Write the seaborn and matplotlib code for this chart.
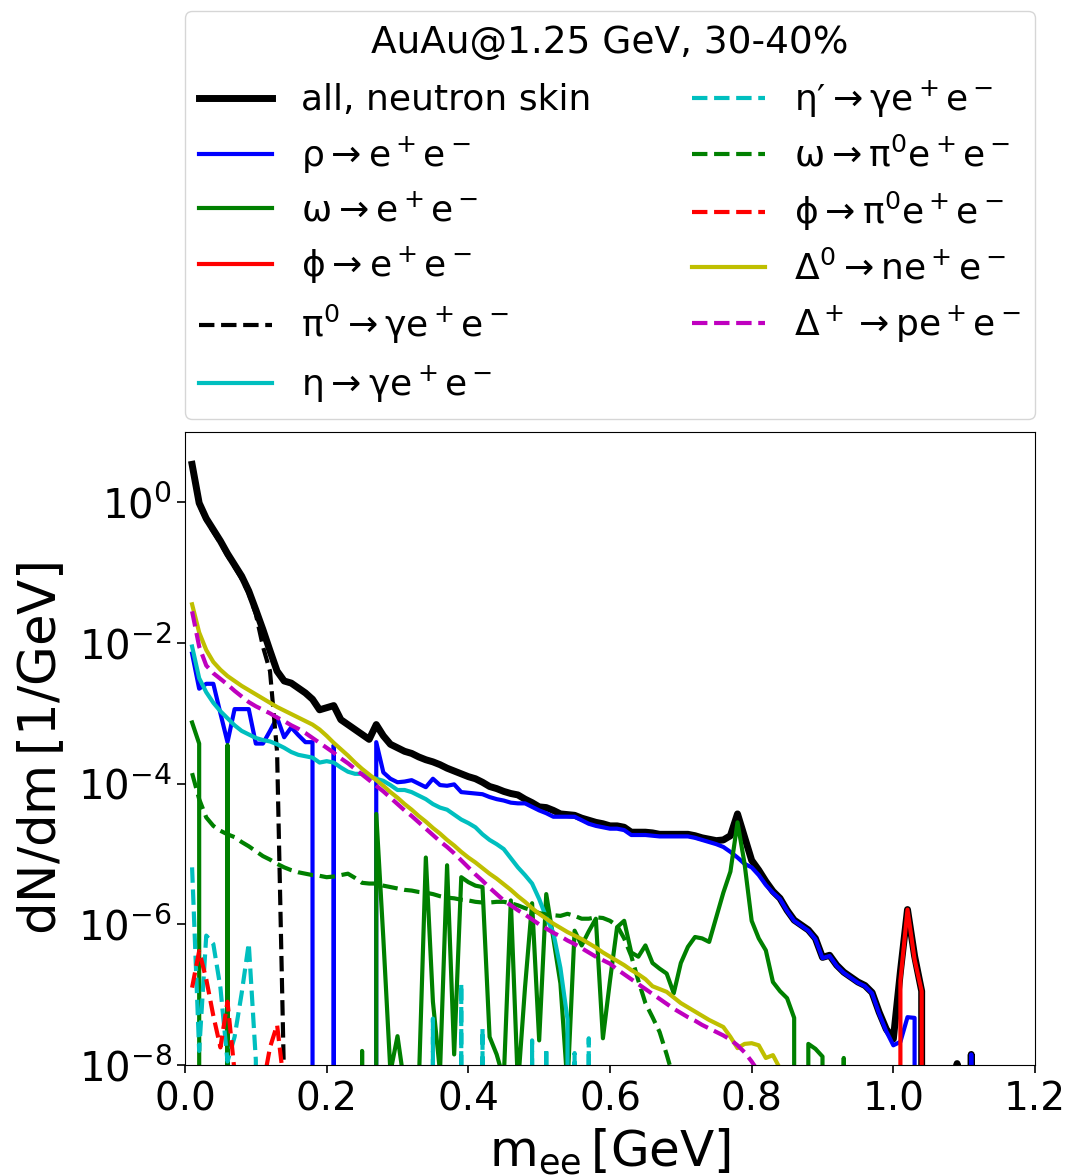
import numpy as np
import pandas as pd
import matplotlib
matplotlib.use("Agg")
import matplotlib.pyplot as plt
import seaborn as sns

# Invariant-mass bin centres [GeV]
m_ee = np.round(np.arange(1, 116) * 0.01, 2)

# log10(dN/dm) per channel; None marks an empty bin
all_skin = [0.54, -0.01, -0.23, -0.39, -0.55, -0.73, -0.89, -1.05, -1.26, -1.53,
            -1.81, -2.11, -2.40, -2.54, -2.57, -2.64, -2.71, -2.80, -2.95, -2.92,
            -2.89, -3.09, -3.16, -3.23, -3.30, -3.37, -3.16, -3.32, -3.44, -3.49,
            -3.54, -3.57, -3.62, -3.66, -3.69, -3.73, -3.78, -3.82, -3.86, -3.90,
            -3.93, -3.98, -4.04, -4.07, -4.11, -4.14, -4.16, -4.22, -4.27, -4.33,
            -4.34, -4.38, -4.43, -4.44, -4.45, -4.49, -4.52, -4.55, -4.57, -4.60,
            -4.60, -4.62, -4.69, -4.69, -4.69, -4.70, -4.72, -4.72, -4.72, -4.72,
            -4.72, -4.74, -4.77, -4.79, -4.81, -4.80, -4.74, -4.43, -4.76, -5.09,
            -5.23, -5.39, -5.53, -5.63, -5.80, -5.94, -6.01, -6.08, -6.20, -6.47,
            -6.44, -6.58, -6.68, -6.75, -6.82, -6.87, -6.97, -7.25, -7.49, -7.63,
            -6.67, -5.79, -6.45, -6.95, None, None, None, None, -7.98, None,
            -7.85, None, None, None, None]

rho_ee = [-2.15, -2.65, -2.58, -2.58, -3.00, -3.41, -2.94, -2.94, -2.94, -3.43,
          -3.43, -3.25, -3.06, -3.34, -3.20, -3.31, -3.41, -3.41, None, None,
          -3.45, None, None, None, None, None, -3.41, -3.84, -3.93, -3.98,
          -3.97, -3.95, -4.00, -4.05, -3.93, -4.02, -4.03, -4.01, -4.12, -4.13,
          -4.14, -4.15, -4.19, -4.22, -4.24, -4.27, -4.28, -4.28, -4.33, -4.38,
          -4.42, -4.47, -4.47, -4.47, -4.47, -4.52, -4.57, -4.60, -4.62, -4.64,
          -4.64, -4.66, -4.73, -4.73, -4.73, -4.74, -4.75, -4.75, -4.75, -4.75,
          -4.75, -4.77, -4.80, -4.83, -4.86, -4.90, -4.97, -5.05, -5.14, -5.19,
          -5.30, -5.44, -5.55, -5.64, -5.81, -5.95, -6.02, -6.09, -6.21, -6.48,
          -6.45, -6.59, -6.69, -6.76, -6.83, -6.88, -6.98, -7.27, -7.52, -7.72,
          -7.67, -7.32, -7.33, None, None, None, None, None, None, None,
          -7.85, None, None, None, None]

omega_ee = [-3.13, -3.43, None, None, None, -3.45, None, None, None, None,
            None, None, None, None, None, None, None, None, None, None,
            None, None, None, None, -7.80, None, -4.43, -6.20, -8.10, -7.59,
            -8.30, -8.30, -8.30, -5.05, -7.10, -8.10, -5.16, -7.85, -5.33, -5.40,
            -5.45, -5.47, -7.60, -7.85, -8.20, -5.66, -8.30, -6.90, -5.70, -7.65,
            -5.57, -6.20, -6.84, -8.30, -6.09, -6.30, -6.10, -5.92, -7.62, -6.80,
            -6.04, -5.95, -6.40, -6.46, -6.30, -6.55, -6.63, -6.70, -6.98, -6.55,
            -6.32, -6.18, -6.20, -6.25, -5.90, -5.55, -5.25, -4.55, -5.14, -5.95,
            -6.20, -6.37, -6.82, -6.95, -7.05, -7.33, None, -7.70, -7.77, -7.88,
            None, None, -7.90, None, None, None, None, None, None, None,
            None, None, None, None, None, None, None, None, None, None,
            None, None, None, None, None]

phi_ee = [None] * 100 + [-6.80, -5.79, -6.50, -6.95] + [None] * 11

pi0_dalitz = [0.53, -0.04, -0.26, -0.42, -0.58, -0.76, -0.92, -1.09, -1.30, -1.59,
              -2.05, -2.40, -3.55, -8.30] + [None] * 101

eta_dalitz = [-2.05, -2.50, -2.70, -2.85, -2.97, -3.07, -3.17, -3.25, -3.30, -3.35,
              -3.38, -3.40, -3.44, -3.49, -3.55, -3.59, -3.61, -3.63, -3.70, -3.68,
              -3.70, -3.77, -3.83, -3.86, -3.86, -3.90, -3.93, -3.96, -4.02, -4.09,
              -4.09, -4.12, -4.17, -4.22, -4.29, -4.34, -4.37, -4.44, -4.51, -4.56,
              -4.62, -4.72, -4.80, -4.86, -4.93, -5.06, -5.19, -5.30, -5.42, -5.64,
              -5.90, -6.12, -6.62, -7.35] + [None] * 61

etap_dalitz = [-5.19, -7.80, -6.16, -6.28, -6.90, -7.95, -7.60, -6.98, -6.27, -7.93,
               None, None, None, None, None, None, None, None, None, None,
               None, None, None, None, None, None, None, None, None, None,
               None, None, None, None, -7.34, None, None, None, -6.84, None,
               None, -7.48, None, None, None, None, None, None, -7.65, None,
               -7.76, None, None, None, -7.83, None, -7.62] + [None] * 58

omega_pi0ee = [-3.85, -4.22, -4.48, -4.60, -4.67, -4.72, -4.76, -4.83, -4.89, -4.96,
               -5.03, -5.08, -5.14, -5.19, -5.23, -5.26, -5.28, -5.30, -5.31, -5.33,
               -5.32, -5.30, -5.28, -5.34, -5.41, -5.42, -5.42, -5.45, -5.47, -5.49,
               -5.51, -5.52, -5.54, -5.55, -5.57, -5.60, -5.62, -5.63, -5.65, -5.66,
               -5.68, -5.69, -5.69, -5.68, -5.68, -5.70, -5.73, -5.77, -5.80, -5.84,
               -5.86, -5.87, -5.88, -5.85, -5.88, -5.92, -5.92, -5.90, -5.91, -5.95,
               -6.02, -6.20, -6.45, -6.80, -7.12, -7.32, -7.53, -7.85, -8.20] + [None] * 46

phi_pi0ee = [-6.90, -6.38, -6.78, -7.30, -7.75, -7.10, -8.10, None, None, None,
             -8.30, -7.75, -7.43, -8.30] + [None] * 101

delta0_nee = [-1.45, -1.85, -2.10, -2.27, -2.38, -2.47, -2.54, -2.61, -2.67, -2.73,
              -2.79, -2.85, -2.91, -2.96, -3.01, -3.06, -3.11, -3.16, -3.23, -3.32,
              -3.42, -3.51, -3.60, -3.70, -3.79, -3.87, -3.95, -4.03, -4.12, -4.20,
              -4.29, -4.37, -4.46, -4.54, -4.63, -4.71, -4.80, -4.88, -4.97, -5.05,
              -5.12, -5.20, -5.28, -5.35, -5.43, -5.51, -5.60, -5.68, -5.77, -5.85,
              -5.92, -5.99, -6.05, -6.11, -6.16, -6.21, -6.27, -6.33, -6.40, -6.46,
              -6.52, -6.58, -6.65, -6.71, -6.78, -6.88, -6.92, -6.96, -7.04, -7.12,
              -7.18, -7.24, -7.30, -7.36, -7.41, -7.46, -7.60, -7.76, -7.70, -7.69,
              -7.72, -7.90, -7.86, -8.05] + [None] * 31

deltap_pee = [-1.55, -2.05, -2.32, -2.43, -2.51, -2.59, -2.68, -2.76, -2.84, -2.90,
              -2.95, -3.00, -3.06, -3.11, -3.17, -3.22, -3.28, -3.35, -3.42, -3.49,
              -3.56, -3.64, -3.71, -3.79, -3.87, -3.95, -4.03, -4.11, -4.20, -4.29,
              -4.38, -4.46, -4.55, -4.64, -4.73, -4.82, -4.90, -4.99, -5.09, -5.19,
              -5.29, -5.38, -5.48, -5.57, -5.66, -5.73, -5.80, -5.86, -5.93, -6.00,
              -6.06, -6.12, -6.17, -6.23, -6.28, -6.34, -6.40, -6.46, -6.51, -6.56,
              -6.64, -6.71, -6.78, -6.85, -6.92, -6.99, -7.06, -7.13, -7.20, -7.26,
              -7.32, -7.37, -7.43, -7.48, -7.53, -7.58, -7.64, -7.72, -7.82, -7.95,
              -8.10] + [None] * 34

labels = ["all, neutron skin",
          r"$\rho\rightarrow e^+e^-$",
          r"$\omega\rightarrow e^+e^-$",
          r"$\phi\rightarrow e^+e^-$",
          r"$\pi^0\rightarrow\gamma e^+e^-$",
          r"$\eta\rightarrow\gamma e^+e^-$",
          "$\u03b7\u2032\\rightarrow\\gamma e^+e^-$",
          r"$\omega\rightarrow\pi^0e^+e^-$",
          r"$\phi\rightarrow\pi^0e^+e^-$",
          r"$\Delta^0\rightarrow ne^+e^-$",
          r"$\Delta^+\rightarrow pe^+e^-$"]
series = [all_skin, rho_ee, omega_ee, phi_ee, pi0_dalitz, eta_dalitz,
          etap_dalitz, omega_pi0ee, phi_pi0ee, delta0_nee, deltap_pee]
colors = ["k", "b", "g", "r", "k", "c", "c", "g", "r", "y", "m"]
styles = ["-", "-", "-", "-", "--", "-", "--", "--", "--", "-", "--"]
widths = [5.0, 3.0, 3.0, 3.0, 3.0, 3.0, 3.0, 3.0, 3.0, 3.0, 3.0]


def to_dndm(logs):
    return np.array([0.0 if v is None else 10.0 ** v for v in logs])


plt.rcParams["mathtext.default"] = "regular"
plt.rcParams["font.family"] = ["DejaVu Sans"]

fig = plt.figure(figsize=(10.67, 11.76), dpi=100)
ax = fig.add_axes([185 / 1067, 111 / 1176, 850 / 1067, 633 / 1176])

# total first, channels drawn over it
for i in range(len(series)):
    df = pd.DataFrame({"m": m_ee, "dndm": to_dndm(series[i])})
    sns.lineplot(data=df, x="m", y="dndm", ax=ax, color=colors[i],
                 linestyle=styles[i], linewidth=widths[i],
                 estimator=None, errorbar=None, label=labels[i])

ax.set_yscale("log")
ax.set_xlim(0.0, 1.2)
ax.set_ylim(1e-8, 10)
ax.set_xticks([0.0, 0.2, 0.4, 0.6, 0.8, 1.0, 1.2])
ax.tick_params(axis="x", labelsize=28, length=6, width=1.2, pad=5)
ax.tick_params(axis="y", labelsize=29, length=6, width=1.2)
ax.set_xlabel(r"$m_{ee}\,[GeV]$", fontsize=36, labelpad=6)
ax.set_ylabel(r"$dN/dm\,[1/GeV]$", fontsize=37, labelpad=8)

handles, _ = ax.get_legend_handles_labels()
leg = ax.legend(handles, labels,
                bbox_to_anchor=(0.0, 1.02, 1.0, 0.102), loc="lower left",
                ncol=2, mode="expand", borderaxespad=0.0, labelspacing=0.47,
                title="AuAu@1.25 GeV, 30-40%", fontsize=26, title_fontsize=27)

fig.savefig("out.png", dpi=100)
